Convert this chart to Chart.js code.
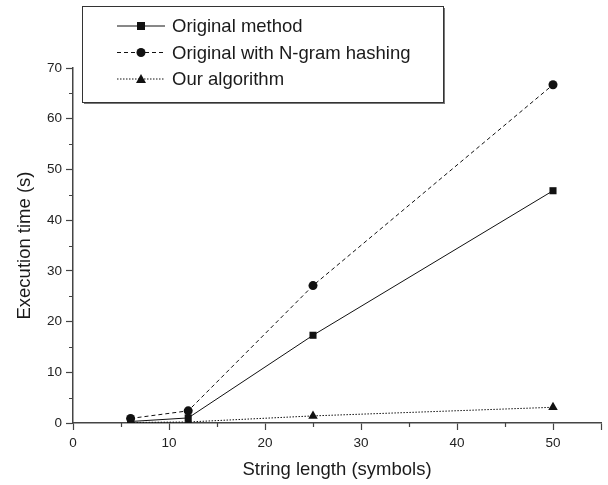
<!DOCTYPE html>
<html>
<head>
<meta charset="utf-8">
<script src="https://cdn.jsdelivr.net/npm/chart.js@4"></script>
<style>
  html, body { margin: 0; padding: 0; background: #fff; }
  #wrap { width: 608px; height: 485px; }
</style>
</head>
<body>
<div id="wrap"><canvas id="c" width="608" height="485"></canvas></div>
<script>
const stringLength = [6, 12, 25, 50];
const originalMethod = [0.3, 1.0, 17.3, 45.8];
const ngramHashing = [0.9, 2.4, 27.1, 66.7];
const ourAlgorithm = [0.1, 0.2, 1.4, 3.1];
const seriesNames = ["Original method", "Original with N-gram hashing", "Our algorithm"];

const FONT = "'Liberation Sans', Arial, sans-serif";
const AXIS = "#444";

const toPoints = (ys) => stringLength.map((x, i) => ({ x, y: ys[i] }));

// minor ticks every 5 units, drawn outward
const minorTicks = {
  id: "minorTicks",
  afterDraw(chart) {
    const { ctx, chartArea, scales } = chart;
    ctx.save();
    ctx.strokeStyle = AXIS;
    ctx.lineWidth = 1.2;
    ctx.beginPath();
    for (let v = 5; v < 55; v += 10) {
      const px = Math.round(scales.x.getPixelForValue(v)) + 0.5;
      ctx.moveTo(px, chartArea.bottom);
      ctx.lineTo(px, chartArea.bottom + 4);
    }
    for (let v = 5; v < 70; v += 10) {
      const py = Math.round(scales.y.getPixelForValue(v)) + 0.5;
      ctx.moveTo(chartArea.left, py);
      ctx.lineTo(chartArea.left - 4, py);
    }
    ctx.stroke();
    ctx.restore();
  },
};

function drawMarker(ctx, style, x, y) {
  ctx.beginPath();
  if (style === "rect") {
    ctx.rect(x - 4, y - 4, 8, 8);
  } else if (style === "circle") {
    ctx.arc(x, y, 4.5, 0, Math.PI * 2);
  } else {
    ctx.moveTo(x, y - 5);
    ctx.lineTo(x + 5, y + 4);
    ctx.lineTo(x - 5, y + 4);
    ctx.closePath();
  }
  ctx.fill();
}

// boxed legend inside the plot, with drop shadow
const boxLegend = {
  id: "boxLegend",
  afterDraw(chart) {
    const { ctx } = chart;
    const x0 = 82, y0 = 6, w = 361, h = 96;
    ctx.save();
    ctx.fillStyle = "#777";
    ctx.fillRect(x0 + 2, y0 + 2, w, h);
    ctx.fillStyle = "#fff";
    ctx.fillRect(x0, y0, w, h);
    ctx.strokeStyle = "#333";
    ctx.lineWidth = 1;
    ctx.strokeRect(x0 + 0.5, y0 + 0.5, w, h);
    chart.data.datasets.forEach((ds, i) => {
      const y = 26 + i * 26.5;
      ctx.strokeStyle = "#111";
      ctx.lineWidth = 1;
      ctx.setLineDash(ds.borderDash || []);
      ctx.beginPath();
      ctx.moveTo(117, y);
      ctx.lineTo(165, y);
      ctx.stroke();
      ctx.setLineDash([]);
      ctx.fillStyle = "#111";
      drawMarker(ctx, ds.pointStyle, 141, y);
      ctx.fillStyle = "#1a1a1a";
      ctx.font = "18.5px " + FONT;
      ctx.textBaseline = "middle";
      ctx.fillText(ds.label, 172, y + 1);
    });
    ctx.restore();
  },
};

const common = {
  borderColor: "#111",
  backgroundColor: "#111",
  borderWidth: 1,
  pointBorderWidth: 0,
  showLine: true,
  fill: false,
};

new Chart(document.getElementById("c"), {
  type: "scatter",
  data: {
    datasets: [
      { ...common, label: seriesNames[0], data: toPoints(originalMethod), pointStyle: "rect", pointRadius: 5 },
      { ...common, label: seriesNames[1], data: toPoints(ngramHashing), pointStyle: "circle", pointRadius: 4.5, borderDash: [4, 3] },
      { ...common, label: seriesNames[2], data: toPoints(ourAlgorithm), pointStyle: "triangle", pointRadius: 5.5, borderDash: [1.5, 1.5] },
    ],
  },
  options: {
    responsive: false,
    animation: false,
    layout: { padding: { top: 68, right: 7, left: 0, bottom: 0 } },
    plugins: { legend: { display: false }, tooltip: { enabled: false } },
    scales: {
      x: {
        type: "linear",
        min: 0,
        max: 55,
        afterFit: (s) => { s.height = 62; },
        ticks: {
          stepSize: 10,
          color: "#222",
          padding: 5,
          font: { family: FONT, size: 13.5 },
          callback: (v) => (v % 10 === 0 ? v : ""),
        },
        grid: { drawOnChartArea: false, tickLength: 7, tickColor: AXIS, tickWidth: 1.2 },
        border: { color: AXIS, width: 1.5 },
        title: { display: true, text: "String length (symbols)", color: "#1a1a1a", font: { family: FONT, size: 18.5 }, padding: { top: 0, bottom: 4 } },
      },
      y: {
        min: 0,
        max: 70,
        afterFit: (s) => { s.width = 73; },
        ticks: {
          stepSize: 10,
          color: "#222",
          padding: 4,
          font: { family: FONT, size: 13.5 },
        },
        grid: { drawOnChartArea: false, tickLength: 7, tickColor: AXIS, tickWidth: 1.2 },
        border: { color: AXIS, width: 1.5 },
        title: { display: true, text: "Execution time (s)", color: "#1a1a1a", font: { family: FONT, size: 18.5 }, padding: { top: 14, bottom: 0 } },
      },
    },
  },
  plugins: [minorTicks, boxLegend],
});
</script>
</body>
</html>
